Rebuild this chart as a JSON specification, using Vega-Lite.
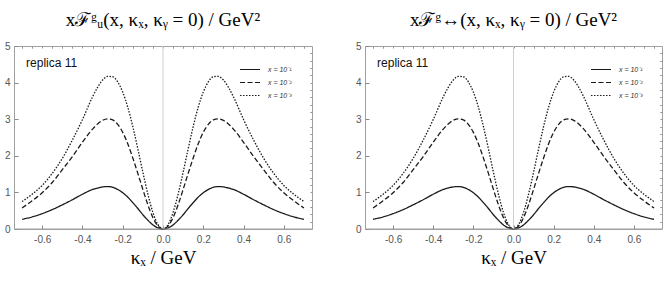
{
  "$schema": "https://vega.github.io/schema/vega-lite/v6.json",
  "background": "white",
  "padding": {"left": 3, "top": 10, "right": 4, "bottom": 4},
  "config": {"view": {"stroke": "#a0a0a0", "strokeWidth": 1}},
  "datasets": {
    "curves": [
      {"k":-0.7,"v":0.265,"s":"x = 10⁻¹"},{"k":-0.65,"v":0.33,"s":"x = 10⁻¹"},{"k":-0.6,"v":0.42,"s":"x = 10⁻¹"},{"k":-0.55,"v":0.53,"s":"x = 10⁻¹"},{"k":-0.5,"v":0.66,"s":"x = 10⁻¹"},{"k":-0.45,"v":0.80,"s":"x = 10⁻¹"},{"k":-0.4,"v":0.95,"s":"x = 10⁻¹"},{"k":-0.35,"v":1.08,"s":"x = 10⁻¹"},{"k":-0.325,"v":1.12,"s":"x = 10⁻¹"},{"k":-0.3,"v":1.15,"s":"x = 10⁻¹"},{"k":-0.275,"v":1.16,"s":"x = 10⁻¹"},{"k":-0.25,"v":1.14,"s":"x = 10⁻¹"},{"k":-0.225,"v":1.08,"s":"x = 10⁻¹"},{"k":-0.2,"v":0.99,"s":"x = 10⁻¹"},{"k":-0.175,"v":0.87,"s":"x = 10⁻¹"},{"k":-0.15,"v":0.72,"s":"x = 10⁻¹"},{"k":-0.125,"v":0.56,"s":"x = 10⁻¹"},{"k":-0.1,"v":0.39,"s":"x = 10⁻¹"},{"k":-0.075,"v":0.24,"s":"x = 10⁻¹"},{"k":-0.05,"v":0.11,"s":"x = 10⁻¹"},{"k":-0.025,"v":0.03,"s":"x = 10⁻¹"},{"k":0,"v":0,"s":"x = 10⁻¹"},
      {"k":0.025,"v":0.03,"s":"x = 10⁻¹"},{"k":0.05,"v":0.11,"s":"x = 10⁻¹"},{"k":0.075,"v":0.24,"s":"x = 10⁻¹"},{"k":0.1,"v":0.39,"s":"x = 10⁻¹"},{"k":0.125,"v":0.56,"s":"x = 10⁻¹"},{"k":0.15,"v":0.72,"s":"x = 10⁻¹"},{"k":0.175,"v":0.87,"s":"x = 10⁻¹"},{"k":0.2,"v":0.99,"s":"x = 10⁻¹"},{"k":0.225,"v":1.08,"s":"x = 10⁻¹"},{"k":0.25,"v":1.14,"s":"x = 10⁻¹"},{"k":0.275,"v":1.16,"s":"x = 10⁻¹"},{"k":0.3,"v":1.15,"s":"x = 10⁻¹"},{"k":0.325,"v":1.12,"s":"x = 10⁻¹"},{"k":0.35,"v":1.08,"s":"x = 10⁻¹"},{"k":0.4,"v":0.95,"s":"x = 10⁻¹"},{"k":0.45,"v":0.80,"s":"x = 10⁻¹"},{"k":0.5,"v":0.66,"s":"x = 10⁻¹"},{"k":0.55,"v":0.53,"s":"x = 10⁻¹"},{"k":0.6,"v":0.42,"s":"x = 10⁻¹"},{"k":0.65,"v":0.33,"s":"x = 10⁻¹"},{"k":0.7,"v":0.265,"s":"x = 10⁻¹"},

      {"k":-0.7,"v":0.575,"s":"x = 10⁻²"},{"k":-0.65,"v":0.77,"s":"x = 10⁻²"},{"k":-0.6,"v":0.99,"s":"x = 10⁻²"},{"k":-0.55,"v":1.27,"s":"x = 10⁻²"},{"k":-0.5,"v":1.62,"s":"x = 10⁻²"},{"k":-0.45,"v":1.98,"s":"x = 10⁻²"},{"k":-0.4,"v":2.37,"s":"x = 10⁻²"},{"k":-0.35,"v":2.73,"s":"x = 10⁻²"},{"k":-0.325,"v":2.87,"s":"x = 10⁻²"},{"k":-0.3,"v":2.97,"s":"x = 10⁻²"},{"k":-0.275,"v":3.01,"s":"x = 10⁻²"},{"k":-0.25,"v":2.98,"s":"x = 10⁻²"},{"k":-0.225,"v":2.86,"s":"x = 10⁻²"},{"k":-0.2,"v":2.64,"s":"x = 10⁻²"},{"k":-0.175,"v":2.33,"s":"x = 10⁻²"},{"k":-0.15,"v":1.94,"s":"x = 10⁻²"},{"k":-0.125,"v":1.52,"s":"x = 10⁻²"},{"k":-0.1,"v":1.08,"s":"x = 10⁻²"},{"k":-0.075,"v":0.66,"s":"x = 10⁻²"},{"k":-0.05,"v":0.31,"s":"x = 10⁻²"},{"k":-0.025,"v":0.08,"s":"x = 10⁻²"},{"k":0,"v":0,"s":"x = 10⁻²"},
      {"k":0.025,"v":0.08,"s":"x = 10⁻²"},{"k":0.05,"v":0.31,"s":"x = 10⁻²"},{"k":0.075,"v":0.66,"s":"x = 10⁻²"},{"k":0.1,"v":1.08,"s":"x = 10⁻²"},{"k":0.125,"v":1.52,"s":"x = 10⁻²"},{"k":0.15,"v":1.94,"s":"x = 10⁻²"},{"k":0.175,"v":2.33,"s":"x = 10⁻²"},{"k":0.2,"v":2.64,"s":"x = 10⁻²"},{"k":0.225,"v":2.86,"s":"x = 10⁻²"},{"k":0.25,"v":2.98,"s":"x = 10⁻²"},{"k":0.275,"v":3.01,"s":"x = 10⁻²"},{"k":0.3,"v":2.97,"s":"x = 10⁻²"},{"k":0.325,"v":2.87,"s":"x = 10⁻²"},{"k":0.35,"v":2.73,"s":"x = 10⁻²"},{"k":0.4,"v":2.37,"s":"x = 10⁻²"},{"k":0.45,"v":1.98,"s":"x = 10⁻²"},{"k":0.5,"v":1.62,"s":"x = 10⁻²"},{"k":0.55,"v":1.27,"s":"x = 10⁻²"},{"k":0.6,"v":0.99,"s":"x = 10⁻²"},{"k":0.65,"v":0.77,"s":"x = 10⁻²"},{"k":0.7,"v":0.575,"s":"x = 10⁻²"},

      {"k":-0.7,"v":0.75,"s":"x = 10⁻³"},{"k":-0.65,"v":0.95,"s":"x = 10⁻³"},{"k":-0.6,"v":1.19,"s":"x = 10⁻³"},{"k":-0.55,"v":1.52,"s":"x = 10⁻³"},{"k":-0.5,"v":1.93,"s":"x = 10⁻³"},{"k":-0.45,"v":2.43,"s":"x = 10⁻³"},{"k":-0.4,"v":2.99,"s":"x = 10⁻³"},{"k":-0.35,"v":3.61,"s":"x = 10⁻³"},{"k":-0.325,"v":3.87,"s":"x = 10⁻³"},{"k":-0.3,"v":4.07,"s":"x = 10⁻³"},{"k":-0.275,"v":4.17,"s":"x = 10⁻³"},{"k":-0.25,"v":4.16,"s":"x = 10⁻³"},{"k":-0.225,"v":4.02,"s":"x = 10⁻³"},{"k":-0.2,"v":3.74,"s":"x = 10⁻³"},{"k":-0.175,"v":3.33,"s":"x = 10⁻³"},{"k":-0.15,"v":2.80,"s":"x = 10⁻³"},{"k":-0.125,"v":2.19,"s":"x = 10⁻³"},{"k":-0.1,"v":1.55,"s":"x = 10⁻³"},{"k":-0.075,"v":0.95,"s":"x = 10⁻³"},{"k":-0.05,"v":0.45,"s":"x = 10⁻³"},{"k":-0.025,"v":0.12,"s":"x = 10⁻³"},{"k":0,"v":0,"s":"x = 10⁻³"},
      {"k":0.025,"v":0.12,"s":"x = 10⁻³"},{"k":0.05,"v":0.45,"s":"x = 10⁻³"},{"k":0.075,"v":0.95,"s":"x = 10⁻³"},{"k":0.1,"v":1.55,"s":"x = 10⁻³"},{"k":0.125,"v":2.19,"s":"x = 10⁻³"},{"k":0.15,"v":2.80,"s":"x = 10⁻³"},{"k":0.175,"v":3.33,"s":"x = 10⁻³"},{"k":0.2,"v":3.74,"s":"x = 10⁻³"},{"k":0.225,"v":4.02,"s":"x = 10⁻³"},{"k":0.25,"v":4.16,"s":"x = 10⁻³"},{"k":0.275,"v":4.17,"s":"x = 10⁻³"},{"k":0.3,"v":4.07,"s":"x = 10⁻³"},{"k":0.325,"v":3.87,"s":"x = 10⁻³"},{"k":0.35,"v":3.61,"s":"x = 10⁻³"},{"k":0.4,"v":2.99,"s":"x = 10⁻³"},{"k":0.45,"v":2.43,"s":"x = 10⁻³"},{"k":0.5,"v":1.93,"s":"x = 10⁻³"},{"k":0.55,"v":1.52,"s":"x = 10⁻³"},{"k":0.6,"v":1.19,"s":"x = 10⁻³"},{"k":0.65,"v":0.95,"s":"x = 10⁻³"},{"k":0.7,"v":0.75,"s":"x = 10⁻³"}
    ]
  },
  "spacing": 41,
  "resolve": {"scale": {"strokeDash": "independent"}, "legend": {"strokeDash": "independent"}},
  "hconcat": [
    {
      "width": 298, "height": 183,
      "title": {"text": "xℱᵍᵤ(x, κₓ, κᵧ = 0) / GeV²", "font": "Liberation Serif", "fontSize": 19, "fontWeight": "normal", "color": "#000", "offset": 11},
      "resolve": {"axis": {"x": "independent", "y": "independent"}},
      "layer": [
        {
          "data": {"name": "curves"},
          "mark": {"type": "line", "color": "#1a1a1a", "strokeWidth": 1.3, "interpolate": "monotone"},
          "encoding": {
            "x": {"field": "k", "type": "quantitative", "scale": {"domain": [-0.74, 0.74], "nice": false, "zero": false},
                  "axis": {"values": [-0.6,-0.4,-0.2,0,0.2,0.4,0.6], "format": ".1f", "labelExpr": "replace(datum.label, '−', '-')", "domain": false, "grid": false, "tickSize": -4, "tickColor": "#888", "labelPadding": 9, "labelFont": "Liberation Sans", "labelFontSize": 10, "labelColor": "#555", "title": "κₓ / GeV", "titleFont": "Liberation Serif", "titleFontSize": 19, "titleFontWeight": "normal", "titleColor": "#000", "titlePadding": 4}},
            "y": {"field": "v", "type": "quantitative", "scale": {"domain": [0, 5], "nice": false},
                  "axis": {"values": [0,1,2,3,4,5], "domain": false, "grid": false, "tickSize": -4, "tickColor": "#888", "labelPadding": 8, "labelFont": "Liberation Sans", "labelFontSize": 10, "labelColor": "#555", "title": null}},
            "strokeDash": {"field": "s", "type": "nominal", "scale": {"domain": ["x = 10⁻¹", "x = 10⁻²", "x = 10⁻³"], "range": [[1, 0], [5, 2.5], [1.5, 1.5]]},
                  "legend": {"orient": "none", "legendX": 225, "legendY": 19, "title": null, "padding": 0, "symbolType": "stroke", "symbolSize": 400, "symbolStrokeWidth": 1.2, "symbolStrokeColor": "#1a1a1a", "clipHeight": 9, "rowPadding": 4, "labelFont": "Liberation Sans", "labelFontSize": 7, "labelFontStyle": "italic", "labelColor": "#333", "labelOffset": 7}}
          }
        },
        {
          "data": {"values": [{}]},
          "mark": {"type": "rule", "color": "#cfcfcf", "strokeWidth": 1},
          "encoding": {"x": {"datum": 0, "type": "quantitative", "axis": {"values": [-0.7,-0.65,-0.55,-0.5,-0.45,-0.35,-0.3,-0.25,-0.15,-0.1,-0.05,0.05,0.1,0.15,0.25,0.3,0.35,0.45,0.5,0.55,0.65,0.7], "labels": false, "domain": false, "grid": false, "tickSize": -2, "tickColor": "#999", "title": null}}}
        },
        {
          "data": {"values": [{}]},
          "mark": {"type": "text", "text": "replica 11", "align": "left", "baseline": "alphabetic", "font": "Liberation Sans", "fontSize": 12, "color": "#111"},
          "encoding": {
            "x": {"datum": -0.68, "type": "quantitative", "axis": {"orient": "top", "values": [-0.7,-0.65,-0.6,-0.55,-0.5,-0.45,-0.4,-0.35,-0.3,-0.25,-0.2,-0.15,-0.1,-0.05,0,0.05,0.1,0.15,0.2,0.25,0.3,0.35,0.4,0.45,0.5,0.55,0.6,0.65,0.7], "labels": false, "domain": false, "grid": false, "tickSize": -2, "tickColor": "#999", "title": null}},
            "y": {"datum": 4.43, "type": "quantitative", "axis": {"values": [0.2,0.4,0.6,0.8,1.2,1.4,1.6,1.8,2.2,2.4,2.6,2.8,3.2,3.4,3.6,3.8,4.2,4.4,4.6,4.8], "labels": false, "domain": false, "grid": false, "tickSize": -2, "tickColor": "#999", "title": null}}
          }
        },
        {
          "data": {"values": [{}]},
          "mark": {"type": "rule", "color": "#a0a0a0", "strokeWidth": 1},
          "encoding": {"y": {"datum": 0, "type": "quantitative", "axis": {"orient": "right", "values": [0.2,0.4,0.6,0.8,1,1.2,1.4,1.6,1.8,2,2.2,2.4,2.6,2.8,3,3.2,3.4,3.6,3.8,4,4.2,4.4,4.6,4.8], "labels": false, "domain": false, "grid": false, "tickSize": -2, "tickColor": "#999", "title": null}}}
        }
      ]
    },
    {
      "width": 297, "height": 183,
      "title": {"text": "xℱᵍ↔(x, κₓ, κᵧ = 0) / GeV²", "font": "Liberation Serif", "fontSize": 19, "fontWeight": "normal", "color": "#000", "offset": 11},
      "resolve": {"axis": {"x": "independent", "y": "independent"}},
      "layer": [
        {
          "data": {"name": "curves"},
          "mark": {"type": "line", "color": "#1a1a1a", "strokeWidth": 1.3, "interpolate": "monotone"},
          "encoding": {
            "x": {"field": "k", "type": "quantitative", "scale": {"domain": [-0.74, 0.74], "nice": false, "zero": false},
                  "axis": {"values": [-0.6,-0.4,-0.2,0,0.2,0.4,0.6], "format": ".1f", "labelExpr": "replace(datum.label, '−', '-')", "domain": false, "grid": false, "tickSize": -4, "tickColor": "#888", "labelPadding": 9, "labelFont": "Liberation Sans", "labelFontSize": 10, "labelColor": "#555", "title": "κₓ / GeV", "titleFont": "Liberation Serif", "titleFontSize": 19, "titleFontWeight": "normal", "titleColor": "#000", "titlePadding": 4}},
            "y": {"field": "v", "type": "quantitative", "scale": {"domain": [0, 5], "nice": false},
                  "axis": {"values": [0,1,2,3,4,5], "domain": false, "grid": false, "tickSize": -4, "tickColor": "#888", "labelPadding": 8, "labelFont": "Liberation Sans", "labelFontSize": 10, "labelColor": "#555", "title": null}},
            "strokeDash": {"field": "s", "type": "nominal", "scale": {"domain": ["x = 10⁻¹", "x = 10⁻²", "x = 10⁻³"], "range": [[1, 0], [5, 2.5], [1.5, 1.5]]},
                  "legend": {"orient": "none", "legendX": 225, "legendY": 19, "title": null, "padding": 0, "symbolType": "stroke", "symbolSize": 400, "symbolStrokeWidth": 1.2, "symbolStrokeColor": "#1a1a1a", "clipHeight": 9, "rowPadding": 4, "labelFont": "Liberation Sans", "labelFontSize": 7, "labelFontStyle": "italic", "labelColor": "#333", "labelOffset": 7}}
          }
        },
        {
          "data": {"values": [{}]},
          "mark": {"type": "rule", "color": "#cfcfcf", "strokeWidth": 1},
          "encoding": {"x": {"datum": 0, "type": "quantitative", "axis": {"values": [-0.7,-0.65,-0.55,-0.5,-0.45,-0.35,-0.3,-0.25,-0.15,-0.1,-0.05,0.05,0.1,0.15,0.25,0.3,0.35,0.45,0.5,0.55,0.65,0.7], "labels": false, "domain": false, "grid": false, "tickSize": -2, "tickColor": "#999", "title": null}}}
        },
        {
          "data": {"values": [{}]},
          "mark": {"type": "text", "text": "replica 11", "align": "left", "baseline": "alphabetic", "font": "Liberation Sans", "fontSize": 12, "color": "#111"},
          "encoding": {
            "x": {"datum": -0.68, "type": "quantitative", "axis": {"orient": "top", "values": [-0.7,-0.65,-0.6,-0.55,-0.5,-0.45,-0.4,-0.35,-0.3,-0.25,-0.2,-0.15,-0.1,-0.05,0,0.05,0.1,0.15,0.2,0.25,0.3,0.35,0.4,0.45,0.5,0.55,0.6,0.65,0.7], "labels": false, "domain": false, "grid": false, "tickSize": -2, "tickColor": "#999", "title": null}},
            "y": {"datum": 4.43, "type": "quantitative", "axis": {"values": [0.2,0.4,0.6,0.8,1.2,1.4,1.6,1.8,2.2,2.4,2.6,2.8,3.2,3.4,3.6,3.8,4.2,4.4,4.6,4.8], "labels": false, "domain": false, "grid": false, "tickSize": -2, "tickColor": "#999", "title": null}}
          }
        },
        {
          "data": {"values": [{}]},
          "mark": {"type": "rule", "color": "#a0a0a0", "strokeWidth": 1},
          "encoding": {"y": {"datum": 0, "type": "quantitative", "axis": {"orient": "right", "values": [0.2,0.4,0.6,0.8,1,1.2,1.4,1.6,1.8,2,2.2,2.4,2.6,2.8,3,3.2,3.4,3.6,3.8,4,4.2,4.4,4.6,4.8], "labels": false, "domain": false, "grid": false, "tickSize": -2, "tickColor": "#999", "title": null}}}
        }
      ]
    }
  ]
}
